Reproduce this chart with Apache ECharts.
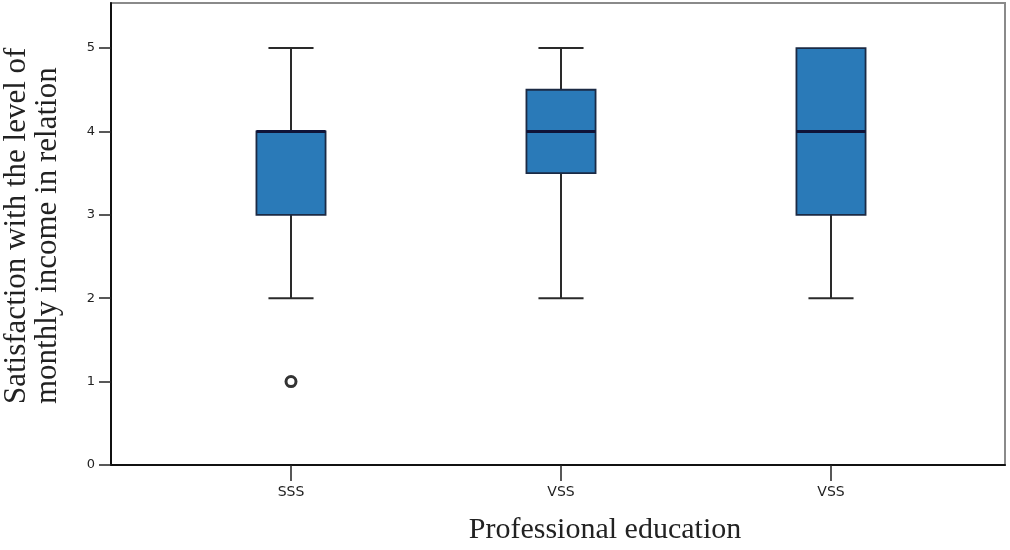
<!DOCTYPE html>
<html>
<head>
<meta charset="utf-8">
<script src="https://cdn.jsdelivr.net/npm/echarts@6/dist/echarts.min.js"></script>
<style>html,body{margin:0;padding:0;background:#fff;}#c{width:1010px;height:550px;}</style>
</head>
<body>
<div id="c"></div>
<script>
// ---- data ----
const categories = ['SSS', 'VSS', 'VSS'];
const whiskerLow = [2, 2, 2];
const q1 = [3, 3.5, 3];
const medians = [4, 4, 4];
const q3 = [4, 4.5, 5];
const whiskerHigh = [5, 5, 5];
const outlierCat = [0];
const outlierVal = [1];
const yTicks = [0, 1, 2, 3, 4, 5];
const xTitle = 'Professional education';
const yTitle = 'Satisfaction with the level of\nmonthly income in relation';

const boxData = categories.map((c, i) => [i, whiskerLow[i], q1[i], medians[i], q3[i], whiskerHigh[i]]);
const outlierData = outlierCat.map((c, i) => [c, outlierVal[i]]);

const chart = echarts.init(document.getElementById('c'), null, {renderer: 'canvas'});

function renderBox(params, api) {
  const x = api.value(0);
  const band = api.size([1, 0])[0];
  const bw = band * 0.256;
  const cw = band * 0.167;
  const pLow = api.coord([x, api.value(1)]);
  const pQ1 = api.coord([x, api.value(2)]);
  const pMed = api.coord([x, api.value(3)]);
  const pQ3 = api.coord([x, api.value(4)]);
  const pHigh = api.coord([x, api.value(5)]);
  const cx = pMed[0];
  const lineStyle = {stroke: '#2a2a2a', lineWidth: 2};
  const children = [];
  if (pHigh[1] < pQ3[1] - 0.5) {
    children.push({type: 'line', shape: {x1: cx, y1: pQ3[1], x2: cx, y2: pHigh[1]}, style: lineStyle});
    children.push({type: 'line', shape: {x1: cx - cw / 2, y1: pHigh[1], x2: cx + cw / 2, y2: pHigh[1]}, style: lineStyle});
  }
  if (pLow[1] > pQ1[1] + 0.5) {
    children.push({type: 'line', shape: {x1: cx, y1: pQ1[1], x2: cx, y2: pLow[1]}, style: lineStyle});
    children.push({type: 'line', shape: {x1: cx - cw / 2, y1: pLow[1], x2: cx + cw / 2, y2: pLow[1]}, style: lineStyle});
  }
  children.push({
    type: 'rect',
    shape: {x: cx - bw / 2, y: pQ3[1], width: bw, height: pQ1[1] - pQ3[1]},
    style: {fill: '#2a7ab8', stroke: '#1b2a44', lineWidth: 1.8}
  });
  children.push({
    type: 'line',
    shape: {x1: cx - bw / 2, y1: pMed[1], x2: cx + bw / 2, y2: pMed[1]},
    style: {stroke: '#0f1438', lineWidth: 3}
  });
  return {type: 'group', children: children};
}

const option = {
  backgroundColor: '#fff',
  animation: false,
  grid: [
    {left: 111, right: 5, top: 3, bottom: 85, show: true, borderColor: '#8a8a8a', borderWidth: 2, backgroundColor: 'transparent'},
    {left: 156, right: 44, top: 3, bottom: 85}
  ],
  xAxis: [
    {gridIndex: 0, type: 'value', min: 0, max: 1, axisLine: {show: true, lineStyle: {color: '#111', width: 2}}, axisTick: {show: false}, axisLabel: {show: false}, splitLine: {show: false}},
    {gridIndex: 1, type: 'category', data: categories, boundaryGap: true,
     axisLine: {show: false},
     axisTick: {show: true, alignWithLabel: true, length: 16, lineStyle: {color: '#222', width: 1.5}},
     axisLabel: {margin: 20, fontSize: 14, color: '#222', fontFamily: 'DejaVu Sans'},
     splitLine: {show: false}}
  ],
  yAxis: [
    {gridIndex: 0, type: 'value', min: 0, max: 5.54,
     axisLine: {show: true, lineStyle: {color: '#111', width: 2}},
     axisTick: {show: true, length: 12, customValues: yTicks, lineStyle: {color: '#222', width: 1.5}},
     axisLabel: {margin: 16, fontSize: 13, color: '#222', fontFamily: 'DejaVu Sans', customValues: yTicks},
     splitLine: {show: false}},
    {gridIndex: 1, type: 'value', min: 0, max: 5.54, show: false, splitLine: {show: false}}
  ],
  series: [
    {type: 'custom', xAxisIndex: 1, yAxisIndex: 1, renderItem: renderBox, data: boxData, encode: {x: 0, y: [1, 2, 3, 4, 5]}},
    {type: 'scatter', xAxisIndex: 1, yAxisIndex: 1, data: outlierData, symbol: 'circle', symbolSize: 10,
     itemStyle: {color: '#fff', borderColor: '#000', borderWidth: 3}}
  ],
  graphic: [
    {type: 'text', x: 605, y: 530, style: {text: xTitle, font: '30px "Liberation Serif"', fill: '#222', textAlign: 'center', textVerticalAlign: 'middle'}},
    {type: 'text', x: 32, y: 404, rotation: Math.PI / 2, style: {text: yTitle, font: '31px "Liberation Serif"', fill: '#222', textAlign: 'left', textVerticalAlign: 'middle', lineHeight: 31}}
  ]
};
chart.setOption(option);
</script>
</body>
</html>
